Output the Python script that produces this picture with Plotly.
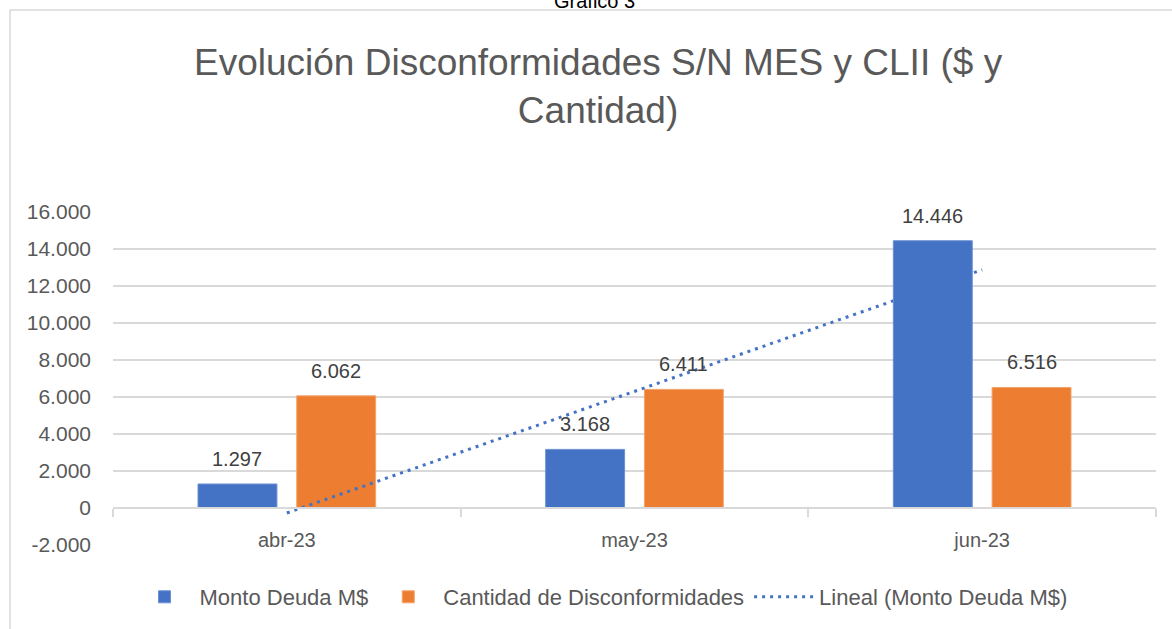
import numpy as np
import plotly.graph_objects as go

# ---- data ----
categories = ["abr-23", "may-23", "jun-23"]
monto_deuda = [1297, 3168, 14446]
cantidad = [6062, 6411, 6516]
series_names = ["Monto Deuda M$", "Cantidad de Disconformidades", "Lineal (Monto Deuda M$)"]
y_ticks = list(range(-2000, 16001, 2000))
title_text = "Evolución Disconformidades S/N MES y CLII ($ y<br>Cantidad)"
caption_text = "Gráfico 3"

# ---- style ----
W, H = 1172, 629
ML, MR, MT, MB = 113, 16, 212, 84
BLUE, ORANGE = "#4472C4", "#ED7D31"
GRID = "#D9D9D9"
TXT = "#595959"
FONT = "Liberation Sans, Arial, sans-serif"
Y_RANGE = [y_ticks[0], y_ticks[-1]]
BAR_W = 0.227
HALF_SLOT = 0.142

def fmt(v):
    return f"{v:,}".replace(",", ".")

plot_h = H - MT - MB
plot_w = W - ML - MR

def py(pix):  # pixel row -> paper y
    return (H - MB - pix) / plot_h

def px(pix):  # pixel column -> paper x
    return (pix - ML) / plot_w

# linear trend of Monto Deuda
idx = np.arange(1, len(categories) + 1)
coef = np.polyfit(idx, monto_deuda, 1)
trend = np.polyval(coef, idx)

fig = go.Figure()

# base axes: orange bars + trend line (line drawn over orange bars)
fig.add_trace(go.Bar(
    x=categories, y=cantidad, name=series_names[1],
    marker=dict(color=ORANGE, line=dict(color="#F4A36B", width=1)),
    width=BAR_W, offset=HALF_SLOT - BAR_W / 2,
    xaxis="x", yaxis="y", legendrank=2,
))
fig.add_trace(go.Scatter(
    x=categories, y=trend, name=series_names[2], mode="lines",
    line=dict(color=BLUE, width=3, dash="3px,5px"),
    xaxis="x", yaxis="y", legendrank=3,
))
# overlay axes: blue bars (drawn over the trend line)
fig.add_trace(go.Bar(
    x=categories, y=monto_deuda, name=series_names[0],
    marker=dict(color=BLUE, line=dict(color="#6A8FD3", width=1)),
    width=BAR_W, offset=-HALF_SLOT - BAR_W / 2,
    xaxis="x2", yaxis="y2", legendrank=1,
))

# data labels
for i, v in enumerate(monto_deuda):
    fig.add_annotation(x=i - HALF_SLOT, y=v, xref="x", yref="y", text=fmt(v),
                       showarrow=False, yanchor="bottom", yshift=12,
                       font=dict(size=20, color="#404040", family=FONT))
for i, v in enumerate(cantidad):
    fig.add_annotation(x=i + HALF_SLOT, y=v, xref="x", yref="y", text=fmt(v),
                       showarrow=False, yanchor="bottom", yshift=12,
                       font=dict(size=20, color="#404040", family=FONT))

# caption partly cut at the top
fig.add_annotation(x=px(594), y=py(14), xref="paper", yref="paper", text=caption_text,
                   showarrow=False, yanchor="bottom", xanchor="center",
                   font=dict(size=20, color="#000000", family=FONT))

# chart title
fig.add_annotation(x=px(598), y=py(86), xref="paper", yref="paper", text=title_text,
                   showarrow=False, yanchor="middle", xanchor="center",
                   font=dict(size=37, color=TXT, family=FONT))

# chart frame
fig.add_shape(type="rect", xref="paper", yref="paper",
              x0=px(10), x1=px(W + 20), y0=py(H + 20), y1=py(10),
              line=dict(color=GRID, width=1.5), fillcolor="rgba(0,0,0,0)", layer="below")

zero_pos = (0 - Y_RANGE[0]) / (Y_RANGE[1] - Y_RANGE[0])

fig.update_layout(
    width=W, height=H,
    margin=dict(l=ML, r=MR, t=MT, b=MB, autoexpand=False),
    paper_bgcolor="white", plot_bgcolor="white",
    font=dict(family=FONT, color=TXT),
    barmode="overlay",
    showlegend=True,
    legend=dict(orientation="h", x=px(601), xanchor="center", y=py(597), yanchor="middle",
                font=dict(size=22, color=TXT, family=FONT), itemwidth=60,
                bgcolor="rgba(0,0,0,0)"),
    xaxis=dict(type="category", categoryorder="array", categoryarray=categories,
               range=[-0.5, len(categories) - 0.5],
               anchor="free", position=zero_pos,
               showline=True, linecolor=GRID, linewidth=1.5,
               ticks="outside", tickson="boundaries", ticklen=8, tickcolor=GRID, tickwidth=1.5,
               showgrid=False, tickfont=dict(size=20, color=TXT), ticklabelstandoff=14),
    yaxis=dict(range=Y_RANGE, tickvals=y_ticks, ticktext=[fmt(v) for v in y_ticks],
               showgrid=True, gridcolor=GRID, gridwidth=1.5, zeroline=False,
               showline=False, ticks="", tickfont=dict(size=21, color=TXT),
               ticklabelstandoff=21),
    xaxis2=dict(type="category", categoryorder="array", categoryarray=categories,
                range=[-0.5, len(categories) - 0.5], overlaying="x", visible=False),
    yaxis2=dict(range=Y_RANGE, overlaying="y", visible=False),
)

fig.write_html("out.html", config={"displayModeBar": False},
               post_script="document.body.style.margin='0';document.body.style.overflow='hidden';")
